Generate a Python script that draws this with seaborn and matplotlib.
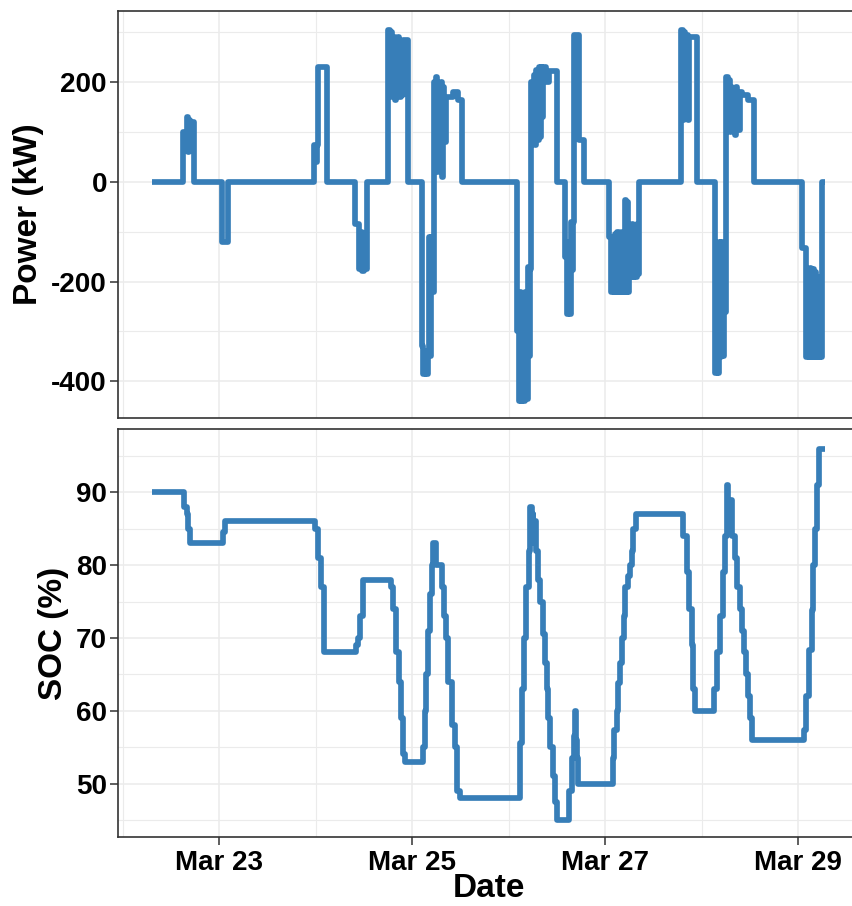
import matplotlib
matplotlib.use("Agg")
import matplotlib.pyplot as plt
import matplotlib.dates as mdates
from matplotlib.ticker import MultipleLocator
import numpy as np
import pandas as pd
import seaborn as sns

# ---- data: hours after Mar 22 00:00, values hold until the next entry ----
power_hour = [
    7.2,
    14.9, 15.9, 16.2, 16.5, 16.8, 17.1, 17.6,
    24.7, 26.2,
    47.5, 48.0, 48.2, 48.6, 50.8,
    57.7, 58.8, 59.2, 59.5, 59.9, 60.2, 60.8,
    65.9, 66.4, 66.7, 67.0, 67.3, 67.6, 67.9, 68.2, 68.5, 68.8, 69.1, 69.4, 69.8, 70.9,
    74.3, 74.7, 75.2, 75.5, 75.8, 76.1, 76.4, 76.7, 77.0, 77.3, 77.6, 77.9, 78.2, 78.5,
    78.8, 79.1, 79.4, 79.7, 80.0, 80.4, 82.0, 83.3, 84.3,
    98.0, 98.5, 98.8, 99.1, 99.4, 99.7, 100.0, 100.3, 100.7, 101.0, 101.3, 101.6, 101.9,
    102.2, 102.5, 102.8, 103.1, 103.4, 103.7, 104.0, 104.3, 104.5, 105.3, 106.0, 108.1,
    109.9, 110.4, 110.8, 111.1, 111.4, 111.7, 112.0, 112.3, 113.4, 114.6,
    120.9, 121.5, 121.8, 122.1, 122.4, 122.7, 123.0, 123.3, 123.6, 123.9, 124.2, 124.5,
    124.8, 125.1, 125.4, 125.7, 126.0, 126.3, 126.6, 126.9, 127.2, 127.5, 127.8, 128.1, 128.4,
    138.8, 139.3, 139.6, 139.9, 140.2, 140.5, 140.9, 142.9,
    147.2, 147.7, 148.0, 148.3, 148.6, 148.9, 149.2, 149.5, 149.8, 150.1, 150.4, 150.7,
    151.0, 151.3, 151.6, 151.9, 152.2, 152.5, 152.8, 153.1, 153.4, 154.0, 155.5, 157.0,
    168.9, 170.0, 170.3, 170.6, 170.9, 171.2, 171.5, 171.8, 172.1, 172.4, 172.7, 173.0,
    173.3, 173.6, 173.9, 174.7,
]
power_kw = [
    0,
    100, 130, 60, 125, 65, 120, 0,
    -120, 0,
    75, 40, 75, 230, 0,
    -85, -175, -100, -178, -120, -175, 0,
    305, 170, 300, 180, 290, 165, 285, 175, 290, 170, 280, 175, 285, 0,
    -330, -385, -340, -385, -350, -110, -350, -110, -220, 200, 60, 210, 20, 190,
    50, 200, 10, 190, 80, 170, 180, 165, 0,
    -300, -440, -220, -440, -230, -440, -220, -435, -170, -350, -175, 200, 80,
    215, 75, 225, 85, 230, 90, 230, 130, 230, 200, 222, 0,
    -150, -265, -120, -265, -80, -176, -80, 294, 84, 0,
    -110, -222, -110, -222, -105, -222, -100, -222, -102, -222, -100, -222,
    -36, -222, -40, -220, -90, -190, -84, -190, -90, -190, -85, -185, 0,
    305, 125, 300, 130, 295, 125, 290, 0,
    -383, -300, -383, -120, -352, -120, -350, -130, -262, 210, 110, 205,
    100, 190, 120, 185, 95, 190, 110, 105, 180, 175, 165, 0,
    -133, -352, -175, -352, -172, -352, -175, -352, -180, -352, -190, -352,
    -200, -352, 0, 0,
]

soc_hour = [
    7.2, 15.2, 15.9, 16.2, 16.7, 24.8, 25.5,
    47.9, 48.6, 49.3, 50.0,
    58.1, 58.5, 59.1, 59.7,
    66.8, 67.2, 68.0, 68.8, 69.3, 69.7, 70.1,
    74.7, 75.1, 75.5, 75.9, 76.3, 76.8, 77.2, 77.9, 79.3, 79.8, 80.5, 81.0, 81.8, 82.6,
    83.1, 83.8,
    98.8, 99.2, 99.7, 100.4, 100.9, 101.3, 101.7, 101.9, 102.1, 102.4, 102.8, 103.3,
    103.7, 104.4, 105.0, 105.4, 105.8, 106.3, 106.9, 107.5, 107.9,
    110.9, 111.6, 112.1, 112.5, 112.8, 113.0, 113.3,
    121.8, 122.2, 122.9, 123.2, 123.7, 124.1, 124.6, 125.0, 125.6, 126.2, 126.6, 127.0, 127.6,
    139.3, 140.2, 140.9, 141.5, 141.9, 142.4,
    147.1, 147.7, 148.6, 149.3, 149.8, 150.2, 150.6, 151.0, 151.4, 152.2, 152.8, 153.4,
    154.0, 154.6, 155.0, 155.6, 156.1, 156.5,
    169.5, 170.0, 170.7, 171.3, 171.7, 172.1, 172.6, 173.1, 174.7,
]
soc_pct = [
    90, 88, 87, 85, 83, 84.5, 86,
    85, 81, 77, 68,
    69, 70, 73, 78,
    77, 74, 68, 64, 59, 54, 53,
    55, 60, 65, 71, 76, 80, 83, 80, 77, 73, 70, 64, 58, 55,
    49, 48,
    55.6, 63, 70, 77, 82, 88, 83, 87, 84, 86, 82, 78,
    75, 70.5, 66.5, 63, 59, 55, 51, 47.5, 45,
    49, 53.5, 56.5, 60, 56, 53.5, 50,
    53.5, 57.4, 60, 63.8, 66.5, 70, 73, 77, 78.5, 80, 82, 85, 87,
    84, 79, 74, 69, 63, 60,
    63, 68, 73, 79, 84, 91, 88, 89, 84, 81, 77, 74,
    71, 68, 65, 62, 59, 56,
    57.4, 62, 68.4, 73.8, 80, 85, 91, 96, 96,
]

start = pd.Timestamp("2018-03-22")
power_df = pd.DataFrame({"Date": start + pd.to_timedelta(power_hour, unit="h"),
                         "Power": power_kw})
soc_df = pd.DataFrame({"Date": start + pd.to_timedelta(soc_hour, unit="h"),
                       "SOC": soc_pct})

# ---- styling ----
sns.set_theme(style="white")
plt.rcParams["font.family"] = ["Liberation Sans", "DejaVu Sans"]
plt.rcParams["font.weight"] = "bold"
plt.rcParams["axes.unicode_minus"] = False
plt.rcParams["text.color"] = "black"
plt.rcParams["axes.labelcolor"] = "black"

BLUE = "#377EB8"
GRID = "#EBEBEB"
FRAME = "#333333"
TICK_PT = 20
TITLE_PT = 24

W, H = 852, 906
fig = plt.figure(figsize=(W / 100, H / 100), dpi=100)
fig.patch.set_facecolor("white")

left, right = 118, 859
ax_top = fig.add_axes([left / W, 1 - 418.3 / H, (right - left) / W, (418.3 - 11) / H])
ax_bot = fig.add_axes([left / W, 1 - 836.7 / H, (right - left) / W, (836.7 - 429.3) / H])

xmin = start + pd.Timedelta(hours=-1.2)
xmax = start + pd.Timedelta(hours=183.1)

line_kw = dict(estimator=None, sort=False, drawstyle="steps-post", color=BLUE,
               linewidth=4.1, solid_joinstyle="round", solid_capstyle="butt")
sns.lineplot(data=power_df, x="Date", y="Power", ax=ax_top, **line_kw)
sns.lineplot(data=soc_df, x="Date", y="SOC", ax=ax_bot, **line_kw)

ax_top.set_ylim(-474.5, 343)
ax_top.yaxis.set_major_locator(MultipleLocator(200))
ax_top.yaxis.set_minor_locator(MultipleLocator(100))
ax_bot.set_ylim(42.7, 98.65)
ax_bot.yaxis.set_major_locator(MultipleLocator(10))
ax_bot.yaxis.set_minor_locator(MultipleLocator(5))

for ax in (ax_top, ax_bot):
    ax.set_facecolor("white")
    ax.set_xlim(xmin, xmax)
    ax.xaxis.set_major_locator(mdates.DayLocator(bymonthday=[23, 25, 27, 29]))
    ax.xaxis.set_minor_locator(mdates.DayLocator(bymonthday=[22, 24, 26, 28]))
    ax.xaxis.set_major_formatter(mdates.DateFormatter("%b %d"))
    ax.grid(which="major", color=GRID, linewidth=1.1)
    ax.grid(which="minor", color=GRID, linewidth=0.8)
    ax.set_axisbelow(True)
    for s in ax.spines.values():
        s.set_visible(True)
        s.set_color(FRAME)
        s.set_linewidth(1.2)
    ax.tick_params(axis="y", which="major", length=5.5, width=1.1, color=FRAME,
                   labelsize=TICK_PT, labelcolor="black", pad=2.5, left=True)
    ax.tick_params(which="minor", length=0)
    for lab in ax.get_yticklabels():
        lab.set_fontweight("bold")

ax_top.tick_params(axis="x", which="major", length=0, labelbottom=False)
ax_top.set_xlabel("")
ax_top.set_ylabel("Power (kW)", fontsize=TITLE_PT, fontweight="bold", color="black",
                  labelpad=5)

ax_bot.tick_params(axis="x", which="major", length=5.5, width=1.1, color=FRAME,
                   labelsize=TICK_PT, labelcolor="black", pad=4, bottom=True)
for lab in ax_bot.get_xticklabels():
    lab.set_fontweight("bold")
ax_bot.set_xlabel("Date", fontsize=TITLE_PT, fontweight="bold", color="black",
                  labelpad=-2)
ax_bot.set_ylabel("SOC (%)", fontsize=TITLE_PT, fontweight="bold", color="black",
                  labelpad=5)

fig.align_ylabels([ax_top, ax_bot])

fig.savefig("out.png", dpi=100, facecolor="white")
